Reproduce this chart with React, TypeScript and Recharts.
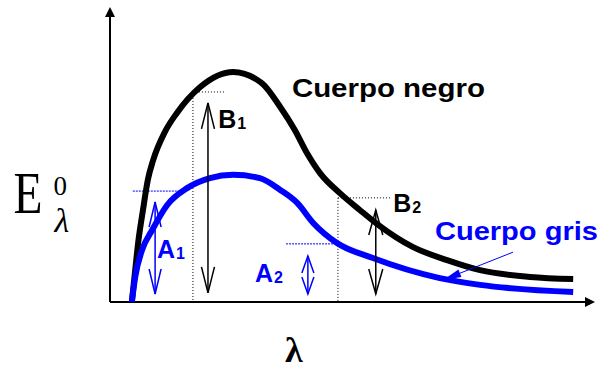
import { ComposedChart, Line, XAxis, YAxis, ReferenceLine, ReferenceDot } from 'recharts';

// Cuerpo negro (black body) spectral curve
const negroLambda = [0.45, 0.52, 0.58, 0.68, 0.78, 0.89, 1.13, 1.38, 1.86, 2.54, 3.13, 3.51, 3.81, 4.06, 4.33, 4.74, 5.15, 5.51, 6.25, 6.95, 7.63, 8.66, 9.55];
const negroE = [0, 1.08, 2.0, 3.12, 4.14, 4.81, 5.76, 6.41, 7.29, 7.8, 7.42, 6.61, 5.83, 5.05, 4.37, 3.69, 3.12, 2.64, 1.86, 1.42, 1.08, 0.85, 0.78];

// Cuerpo gris (grey body) spectral curve
const grisLambda = [0.45, 0.52, 0.66, 0.87, 1.18, 1.59, 2.06, 2.54, 3.09, 3.51, 3.86, 4.19, 4.68, 5.42, 6.8, 7.63, 9.55];
const grisE = [0, 0.85, 1.76, 2.44, 3.29, 3.86, 4.2, 4.31, 4.2, 3.8, 3.36, 2.68, 2.0, 1.49, 0.81, 0.58, 0.34];

const negroData = negroLambda.map((lambda, i) => ({ lambda, e: negroE[i] }));
const grisData = grisLambda.map((lambda, i) => ({ lambda, e: grisE[i] }));

const BLUE = '#0000ff';
const SANS = 'Liberation Sans, Arial, Helvetica, sans-serif';
const SERIF = 'Liberation Serif, Times New Roman, serif';

// head geometry at (tx,ty) pointing away from (fx,fy)
const head = (tx: number, ty: number, fx: number, fy: number, len: number, half: number) => {
  const a = Math.atan2(ty - fy, tx - fx);
  const bx = tx - len * Math.cos(a);
  const by = ty - len * Math.sin(a);
  const nx = -Math.sin(a) * half;
  const ny = Math.cos(a) * half;
  return { bx, by, l: [bx + nx, by + ny], r: [bx - nx, by - ny] };
};

const AxisArrow = (p: any) => {
  const { x1, y1, x2, y2 } = p;
  const h = head(x2, y2, x1, y1, 10, 5);
  return (
    <g>
      <line x1={x1} y1={y1} x2={h.bx} y2={h.by} stroke="#000" strokeWidth={2} />
      <polygon points={`${x2},${y2} ${h.l[0]},${h.l[1]} ${h.r[0]},${h.r[1]}`} fill="#000" />
    </g>
  );
};

const makeDoubleArrow = (color: string, len: number, half: number) => (p: any) => {
  const { x1, y1, x2, y2 } = p;
  const a = head(x1, y1, x2, y2, len, half);
  const b = head(x2, y2, x1, y1, len, half);
  return (
    <g stroke={color} strokeWidth={1.5} fill="none">
      <line x1={x1} y1={y1} x2={x2} y2={y2} />
      <polyline points={`${a.l[0]},${a.l[1]} ${x1},${y1} ${a.r[0]},${a.r[1]}`} />
      <polyline points={`${b.l[0]},${b.l[1]} ${x2},${y2} ${b.r[0]},${b.r[1]}`} />
    </g>
  );
};

const Pointer = (p: any) => {
  const { x1, y1, x2, y2 } = p;
  const h = head(x2, y2, x1, y1, 18, 4);
  return (
    <g>
      <line x1={x1} y1={y1} x2={h.bx} y2={h.by} stroke={BLUE} strokeWidth={1} />
      <polygon points={`${x2},${y2} ${h.l[0]},${h.l[1]} ${h.r[0]},${h.r[1]}`} fill={BLUE} />
    </g>
  );
};

const makeLabel = (main: string, sub: string, color: string) => (p: any) => (
  <text x={p.cx} y={p.cy} fill={color} fontFamily={SANS} fontWeight="bold" fontSize={25}>
    {main}
    <tspan fontSize={16} dx={1} dy={1}>{sub}</tspan>
  </text>
);

const makeTitle = (text: string, color: string, width: number) => (p: any) => (
  <text x={p.cx} y={p.cy} fill={color} fontFamily={SANS} fontWeight="bold" fontSize={25}
    textLength={width} lengthAdjust="spacingAndGlyphs">
    {text}
  </text>
);

const YTitle = (p: any) => (
  <g fill="#000" fontFamily={SERIF}>
    <text x={p.cx} y={p.cy} fontSize={60} textLength={29} lengthAdjust="spacingAndGlyphs">E</text>
    <text x={p.cx + 40} y={p.cy - 18} fontSize={27}>0</text>
    <text x={p.cx + 41} y={p.cy + 19} fontSize={34} fontStyle="italic">λ</text>
  </g>
);

const XTitle = (p: any) => (
  <text x={p.cx} y={p.cy} fill="#000" fontFamily={SERIF} fontWeight="bold" fontSize={36}>λ</text>
);

const dotted = { stroke: '#000', strokeWidth: 1, strokeDasharray: '1 2' };
const dottedBlue = { stroke: BLUE, strokeWidth: 1, strokeDasharray: '2 1' };

export default function App() {
  return (
    <div style={{ position: 'absolute', left: 0, top: 0, background: '#fff' }}>
      <ComposedChart width={610} height={371} margin={{ top: 7, right: 15, bottom: 69, left: 110 }}>
        <XAxis type="number" dataKey="lambda" domain={[0, 10]} hide allowDataOverflow />
        <YAxis type="number" domain={[0, 10]} hide allowDataOverflow />

        {/* axes */}
        <ReferenceLine segment={[{ x: 0, y: 0 }, { x: 10, y: 0 }]} shape={AxisArrow} />
        <ReferenceLine segment={[{ x: 0, y: 0 }, { x: 0, y: 10 }]} shape={AxisArrow} />

        {/* guide lines */}
        <ReferenceLine segment={[{ x: 1.71, y: 7.12 }, { x: 2.35, y: 7.12 }]} {...dotted} />
        <ReferenceLine segment={[{ x: 1.71, y: 7.12 }, { x: 1.71, y: 0 }]} {...dotted} />
        <ReferenceLine segment={[{ x: 4.7, y: 3.53 }, { x: 5.81, y: 3.53 }]} {...dotted} />
        <ReferenceLine segment={[{ x: 4.7, y: 3.53 }, { x: 4.7, y: 0 }]} {...dotted} />
        <ReferenceLine segment={[{ x: 0.47, y: 3.76 }, { x: 1.44, y: 3.76 }]} {...dottedBlue} />
        <ReferenceLine segment={[{ x: 3.63, y: 1.97 }, { x: 4.7, y: 1.97 }]} {...dottedBlue} />

        <Line data={negroData} dataKey="e" type="monotone" stroke="#000" strokeWidth={6}
          dot={false} activeDot={false} isAnimationActive={false} strokeLinecap="butt" />
        <Line data={grisData} dataKey="e" type="monotone" stroke={BLUE} strokeWidth={6}
          dot={false} activeDot={false} isAnimationActive={false} strokeLinecap="butt" />

        {/* B1, B2, A1, A2 spans */}
        <ReferenceLine segment={[{ x: 2.02, y: 6.75 }, { x: 2.02, y: 0.31 }]} shape={makeDoubleArrow('#000', 26, 6.5)} />
        <ReferenceLine segment={[{ x: 5.48, y: 3.12 }, { x: 5.48, y: 0.27 }]} shape={makeDoubleArrow('#000', 25, 7)} />
        <ReferenceLine segment={[{ x: 0.93, y: 3.39 }, { x: 0.93, y: 0.27 }]} shape={makeDoubleArrow(BLUE, 25, 6)} />
        <ReferenceLine segment={[{ x: 4.08, y: 1.56 }, { x: 4.08, y: 0.27 }]} shape={makeDoubleArrow(BLUE, 17, 6)} />

        <ReferenceLine segment={[{ x: 8.31, y: 1.69 }, { x: 6.87, y: 0.75 }]} shape={Pointer} />

        <ReferenceDot x={2.23} y={5.9} shape={makeLabel('B', '1', '#000')} />
        <ReferenceDot x={5.84} y={3.05} shape={makeLabel('B', '2', '#000')} />
        <ReferenceDot x={0.97} y={1.49} shape={makeLabel('A', '1', BLUE)} />
        <ReferenceDot x={2.99} y={0.68} shape={makeLabel('A', '2', BLUE)} />

        <ReferenceDot x={3.75} y={6.95} shape={makeTitle('Cuerpo negro', '#000', 193)} />
        <ReferenceDot x={6.7} y={2.1} shape={makeTitle('Cuerpo gris', BLUE, 163)} />

        <ReferenceDot x={-1.99} y={3.02} ifOverflow="visible" shape={YTitle} />
        <ReferenceDot x={3.61} y={-2.03} ifOverflow="visible" shape={XTitle} />
      </ComposedChart>
    </div>
  );
}
